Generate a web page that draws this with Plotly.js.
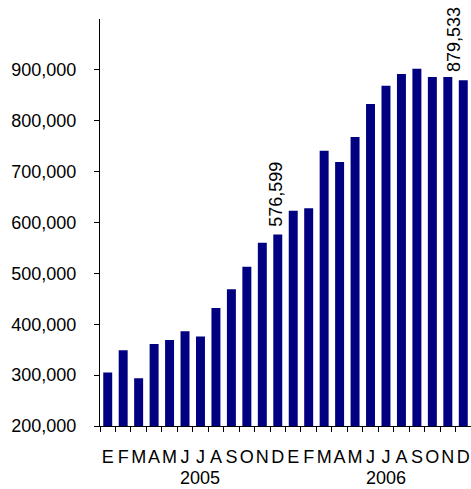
<!DOCTYPE html>
<html>
<head>
<meta charset="utf-8">
<script src="https://cdn.plot.ly/plotly-3.0.1.min.js"></script>
<style>html,body{margin:0;padding:0;background:#fff;}#chart{width:471px;height:489px;}</style>
</head>
<body>
<div id="chart"></div>
<script>
// Data
var months = ["E","F","M","A","M","J","J","A","S","O","N","D",
              "E","F","M","A","M","J","J","A","S","O","N","D"];
var years = ["2005","2006"];
var values = [305000, 349000, 294000, 361000, 369000, 386000, 376000, 432000, 469000, 513000, 560000, 576599,
              623000, 628000, 741000, 719000, 768000, 833000, 869000, 892000, 902000, 886000, 886000, 879533];
var labelledIdx = [11, 23];
var yTickVals = [200000, 300000, 400000, 500000, 600000, 700000, 800000, 900000];

var font = "Liberation Sans, Arial, sans-serif";
var xs = values.map(function(_, i){ return i; });
var bounds = [];
for (var i = 0; i <= months.length; i++) bounds.push(i - 0.5);

function fmt(v){ return v.toLocaleString("en-US"); }

var annotations = labelledIdx.map(function(i){
  var last = (i === values.length - 1);
  return {x: xs[i], y: values[i], xref: "x", yref: "y", text: fmt(values[i]),
          showarrow: false, textangle: -90, xanchor: "center", yanchor: "bottom",
          yshift: 6, xshift: last ? -9 : -2,
          font: {family: font, size: 18, color: "#000"}};
});
years.forEach(function(yr, k){
  annotations.push({x: k * 12 + 6, y: 0, xref: "x", yref: "paper", text: yr,
    showarrow: false, xanchor: "center", yanchor: "top", yshift: -40,
    font: {family: font, size: 18, color: "#000"}});
});

var trace = {
  type: "bar", x: xs, y: values, width: 0.58,
  marker: {color: "#000080", line: {width: 0}},
  hoverinfo: "skip"
};

var layout = {
  width: 471, height: 489,
  margin: {l: 100, r: 0, t: 19, b: 63},
  paper_bgcolor: "#fff", plot_bgcolor: "#fff",
  showlegend: false,
  font: {family: font, size: 18, color: "#000"},
  xaxis: {
    range: [-0.5, 23.5], tickmode: "array", tickvals: xs, ticktext: months,
    tickangle: 0,
    ticks: "", showgrid: false, zeroline: false, showline: true,
    linecolor: "#000", linewidth: 1, ticklabelstandoff: 14,
    tickfont: {family: font, size: 18, color: "#000"},
    minor: {tickmode: "array", tickvals: bounds, ticks: "outside", ticklen: 5,
            tickcolor: "#000", tickwidth: 1, showgrid: false}
  },
  yaxis: {
    range: [200000, 1000000], tickmode: "array", tickvals: yTickVals,
    ticktext: yTickVals.map(fmt), ticks: "outside", ticklen: 5,
    tickcolor: "#000", showgrid: false, zeroline: false, showline: true,
    linecolor: "#000", linewidth: 1, ticklabelstandoff: 14,
    tickfont: {family: font, size: 18, color: "#000"}
  },
  annotations: annotations
};

Plotly.newPlot("chart", [trace], layout, {displayModeBar: false, staticPlot: true});
</script>
</body>
</html>
